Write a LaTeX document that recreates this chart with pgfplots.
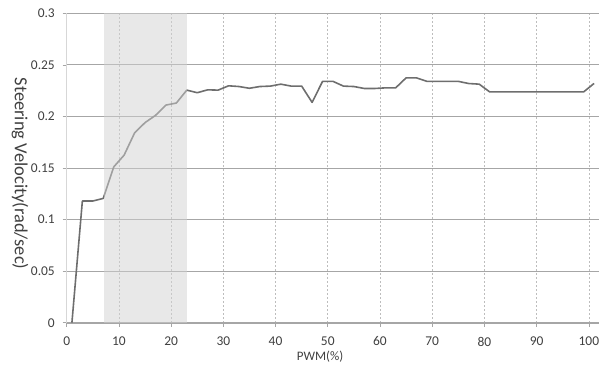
\documentclass[border=0pt]{standalone}
\usepackage{pgfplots}
\pgfplotsset{compat=1.18}
\usepackage{fontspec}
\setmainfont{Carlito}
\definecolor{linec}{HTML}{6E6E6E}
\definecolor{hgrid}{HTML}{A6A6A6}
\definecolor{vgrid}{HTML}{BDBDBD}
\definecolor{txt}{HTML}{404040}
\definecolor{shadec}{gray}{0.82}
\begin{document}
\begin{tikzpicture}
\begin{axis}[name=ax, at={(0,0)}, anchor=south west,
  scale only axis, width=532.6bp, height=309.4bp,
  xmin=0, xmax=102, ymin=0, ymax=0.3,
  axis lines*=left,
  x axis line style={hgrid},
  y axis line style={vgrid!60},
  xtick={0,10,20,30,40,50,60,70,80,90,100},
  xticklabels={0,10,20,30,40,50,60,70,80,90,100},
  ytick={0,0.05,0.1,0.15,0.2,0.25,0.3},
  yticklabels={0,0.05,0.1,0.15,0.2,0.25,0.3},
  scaled y ticks=false,
  tick align=outside, major tick length=4bp,
  tick style={hgrid, line width=0.6bp},
  xmajorgrids, ymajorgrids,
  x grid style={vgrid, line width=0.6bp, dash pattern=on 2bp off 2bp},
  y grid style={hgrid, line width=0.8bp},
  ticklabel style={font=\fontsize{13.5}{15}\selectfont, text=txt, inner sep=0pt},
  xticklabel style={anchor=north, yshift=-10bp},
  yticklabel style={anchor=east, xshift=-7.7bp},
  xlabel={PWM(\%)},
  ylabel={Steering Velocity(rad/sec)},
  every axis x label/.style={at={(axis description cs:0.4756,-0.111)}, anchor=center, font=\fontsize{13}{15}\selectfont, text=txt},
  every axis y label/.style={at={(axis description cs:-0.0877,0.482)}, anchor=center, rotate=-90, font=\fontsize{18.5}{21}\selectfont, text=txt},
  clip=false,
]
\addplot[color=linec, line width=1.6bp, line join=round] coordinates {
(1,0) (3,0.118) (5,0.118) (7,0.1205) (9,0.151) (11,0.1625) (13,0.184)
(15,0.194) (17,0.201) (19,0.211) (21,0.213) (23,0.2255) (25,0.223)
(27,0.2258) (29,0.2255) (31,0.2297) (33,0.229) (35,0.2273) (37,0.229)
(39,0.2294) (41,0.2313) (43,0.2294) (45,0.2294) (47,0.2136) (49,0.234)
(51,0.234) (53,0.2294) (55,0.229) (57,0.2271) (59,0.2271) (61,0.2277)
(63,0.2277) (65,0.2374) (67,0.2374) (69,0.234) (71,0.234) (73,0.234)
(75,0.234) (77,0.2319) (79,0.2313) (81,0.2238) (83,0.2238) (85,0.2238)
(87,0.2238) (89,0.2238) (91,0.2238) (93,0.2238) (95,0.2238) (97,0.2238)
(99,0.2238) (101,0.232)
};
\addplot[draw=none, fill=shadec, fill opacity=0.5] coordinates {
(7.2,0) (7.2,0.3) (23,0.3) (23,0)} -- cycle;
\end{axis}
\pgfresetboundingbox
\path[use as bounding box] (ax.south west) ++(-66.7bp,-46.3bp) rectangle ++(610bp,369bp);
\end{tikzpicture}
\end{document}
